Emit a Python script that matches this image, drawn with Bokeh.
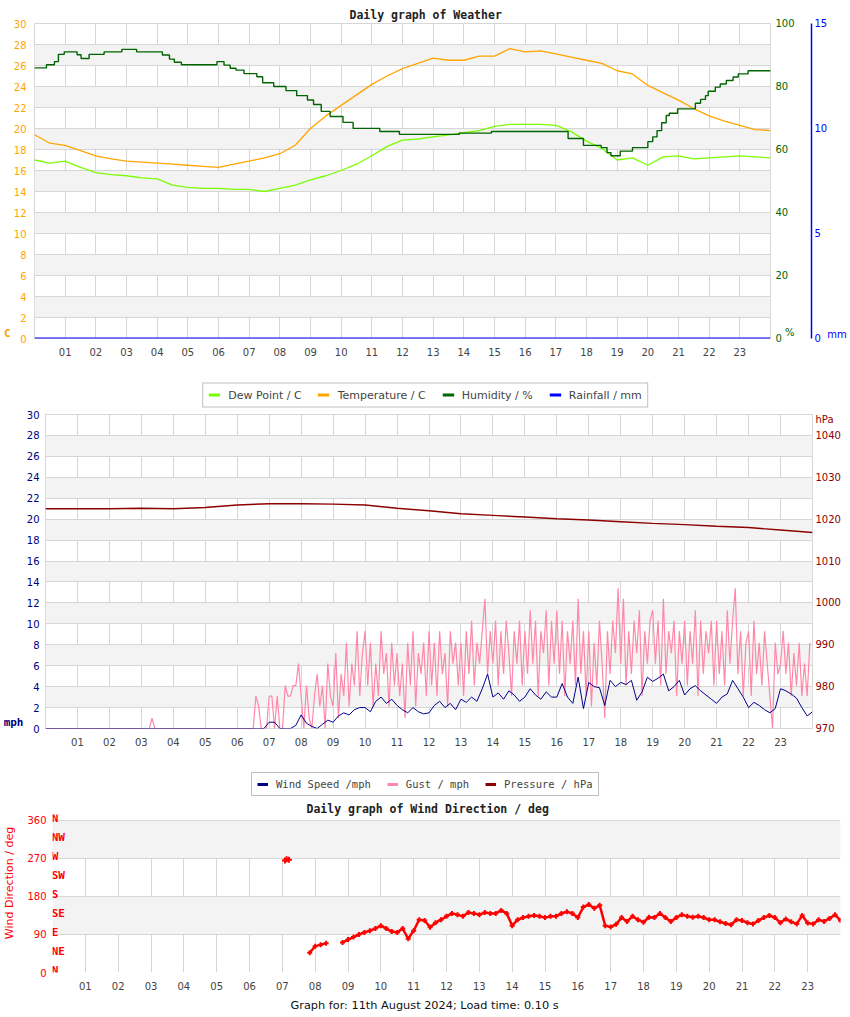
from bokeh.plotting import figure
from bokeh.models import Range1d, LinearAxis, FixedTicker, Legend, LegendItem, Title
from bokeh.embed import file_html
from bokeh.resources import INLINE

# ---------------- data ----------------
HOUR_TICKS = list(range(1, 24))
HOUR_LABELS = ["01", "02", "03", "04", "05", "06", "07", "08", "09", "10", "11", "12",
               "13", "14", "15", "16", "17", "18", "19", "20", "21", "22", "23"]

# Panel 1 : weather (half-hourly readings)
TEMP_HOURS = [0.0, 0.5, 1.0, 1.5, 2.0, 2.5, 3.0, 3.5, 4.0, 4.5, 5.0, 5.5, 6.0, 6.5, 7.0, 7.5,
              8.0, 8.5, 9.0, 9.5, 10.0, 10.5, 11.0, 11.5, 12.0, 12.5, 13.0, 13.5, 14.0, 14.5,
              15.0, 15.5, 16.0, 16.5, 17.0, 17.5, 18.0, 18.5, 19.0, 19.5, 20.0, 20.5, 21.0,
              21.5, 22.0, 22.5, 23.0, 23.5, 24.0]
TEMPERATURE = [19.4, 18.6, 18.4, 17.9, 17.4, 17.1, 16.9, 16.8, 16.7, 16.6, 16.5, 16.4, 16.3,
               16.6, 16.9, 17.2, 17.6, 18.4, 20.0, 21.2, 22.2, 23.2, 24.2, 25.0, 25.7, 26.2,
               26.7, 26.5, 26.5, 26.9, 26.9, 27.6, 27.3, 27.4, 27.1, 26.8, 26.5, 26.2, 25.5,
               25.2, 24.1, 23.4, 22.7, 21.9, 21.2, 20.7, 20.3, 19.9, 19.8]
DEW_POINT = [17.0, 16.7, 16.9, 16.3, 15.8, 15.6, 15.5, 15.3, 15.2, 14.6, 14.4, 14.3, 14.3,
             14.2, 14.2, 14.0, 14.3, 14.6, 15.1, 15.5, 16.0, 16.6, 17.4, 18.3, 18.9, 19.0,
             19.2, 19.4, 19.6, 19.8, 20.2, 20.4, 20.4, 20.4, 20.3, 19.7, 18.8, 18.1, 17.0,
             17.2, 16.5, 17.3, 17.4, 17.1, 17.2, 17.3, 17.4, 17.3, 17.2]
HUM_HOURS = [0.00, 0.39, 0.65, 0.78, 0.97, 1.39, 1.52, 1.78, 2.27, 2.85, 3.33, 4.17, 4.40,
             4.56, 4.79, 5.95, 6.18, 6.38, 6.57, 6.83, 7.25, 7.44, 7.80, 8.20, 8.55, 8.90,
             9.10, 9.35, 9.64, 10.06, 10.39, 11.26, 11.90, 13.85, 14.90, 17.40, 17.90, 18.48,
             18.67, 18.80, 19.10, 19.50, 20.00, 20.16, 20.30, 20.45, 20.60, 20.70, 20.97,
             21.55, 21.72, 21.88, 21.97, 22.20, 22.36, 22.56, 22.78, 22.95, 23.27, 24.00]
HUMIDITY = [85.9, 86.9, 87.9, 90.2, 91.0, 90.1, 88.9, 90.2, 91.0, 91.8, 91.0, 90.0, 88.7,
            87.7, 86.9, 87.9, 86.8, 85.8, 85.2, 84.1, 83.1, 81.2, 80.0, 78.7, 77.1, 75.7,
            74.3, 72.1, 70.5, 68.6, 66.7, 65.7, 64.8, 65.2, 65.7, 63.5, 61.3, 60.6,
            59.0, 58.0, 59.5, 60.6, 62.5, 64.0, 66.0, 68.5, 70.8, 71.5, 72.9,
            74.7, 75.9, 77.1, 78.5, 79.8, 80.8, 81.9, 83.0, 84.0, 85.0, 85.0]
RAIN_HOURS = [0.0, 24.0]
RAINFALL = [0.0, 0.0]

# Panel 2 : wind & pressure
PRESS_HOURS = list(range(25))
PRESSURE = [1022.5, 1022.5, 1022.5, 1022.6, 1022.5, 1022.8, 1023.4, 1023.7, 1023.7, 1023.6,
            1023.4, 1022.6, 1022.0, 1021.3, 1020.9, 1020.5, 1020.1, 1019.8, 1019.4, 1019.0,
            1018.7, 1018.3, 1018.0, 1017.4, 1016.8]

# wind speed, every 10 minutes from 00:00 to 24:00
WIND_SPEED = [
    0, 0, 0, 0, 0, 0,
    0, 0, 0, 0, 0, 0,
    0, 0, 0, 0, 0, 0,
    0, 0, 0, 0, 0, 0,
    0, 0, 0, 0, 0, 0,
    0, 0, 0, 0, 0, 0,
    0, 0, 0, 0, 0, 0,
    0.6, 0.6, 0.0, 0.0, 0.0, 0.3,
    1.3, 0.5, 0.2, 0.0, 0.4, 0.8,
    0.6, 1.2, 1.5, 1.3, 1.8, 2.0,
    2.0, 1.6, 2.6, 3.0, 2.4, 2.8,
    2.2, 1.8, 1.5, 2.0, 1.6, 1.4,
    1.5, 2.2, 2.6, 2.0, 2.4, 1.8,
    2.8, 2.5, 3.0, 2.6, 3.8, 5.2,
    3.0, 3.4, 2.8, 3.6, 3.2, 2.6,
    3.0, 3.8, 3.2, 2.8, 3.5, 3.0,
    3.0, 4.3, 3.0, 2.4, 4.9, 1.9,
    4.4, 4.0, 3.9, 2.2, 4.6, 4.0,
    4.4, 4.2, 4.6, 2.7, 3.5, 4.9,
    4.5, 4.8, 5.2, 3.6, 4.0, 4.6,
    3.2, 3.8, 4.1, 3.6, 3.2, 2.8,
    2.4, 3.0, 3.3, 4.6, 3.8, 3.0,
    2.0, 2.5, 2.2, 1.8, 1.5, 1.9,
    3.8, 3.6, 3.3, 2.9, 2.0, 1.2,
    1.6]

# gust, every 5 minutes from 00:00
GUST = [
    0, 0, 0, 0, 0, 0, 0, 0, 0, 0, 0, 0,
    0, 0, 0, 0, 0, 0, 0, 0, 0, 0, 0, 0,
    0, 0, 0, 0, 0, 0, 0, 0, 0, 0, 0, 0,
    0, 0, 0, 0, 1.0, 0, 0, 0, 0, 0, 0, 0,
    0, 0, 0, 0, 0, 0, 0, 0, 0, 0, 0, 0,
    0, 0, 0, 0, 0, 0, 0, 0, 0, 0, 0, 0,
    0, 0, 0, 0, 0, 0, 0, 3.1, 2.2, 0, 0, 0,
    3.1, 3.1, 0, 3.1, 0, 0, 4.1, 3.1, 3.1, 4.1, 4.1, 6.2,
    3.1, 0, 4.1, 1.0, 0, 3.1, 5.2, 2.1, 4.1, 0, 6.2, 3.1,
    2.1, 7.2, 1.0, 5.2, 3.1, 8.2, 2.1, 6.2, 4.1, 9.3, 3.1, 7.2,
    9.3, 4.1, 8.2, 2.1, 6.2, 3.1, 9.3, 5.2, 7.2, 2.1, 8.2, 4.1,
    7.2, 3.1, 6.2, 1.0, 8.2, 4.1, 9.3, 2.1, 7.2, 5.2, 8.2, 3.1,
    9.3, 4.1, 8.2, 3.1, 9.3, 5.2, 7.2, 2.1, 9.3, 6.2, 8.2, 4.1,
    8.2, 3.1, 9.3, 5.2, 10.3, 4.1, 8.2, 6.2, 9.3, 12.4, 5.2, 9.3,
    6.2, 10.3, 4.1, 9.3, 5.2, 10.3, 7.2, 3.1, 9.3, 6.2, 10.3, 4.1,
    9.3, 5.2, 11.3, 6.2, 10.3, 3.1, 9.3, 7.2, 11.3, 4.1, 10.3, 6.2,
    11.3, 5.2, 10.3, 3.1, 9.3, 6.2, 10.3, 4.1, 12.4, 5.2, 9.3, 3.1,
    9.3, 2.1, 8.2, 4.1, 10.3, 6.2, 1.0, 9.3, 5.2, 10.3, 7.2, 13.4,
    6.2, 12.4, 4.1, 9.3, 5.2, 10.3, 7.2, 11.3, 3.1, 9.3, 6.2, 10.3,
    11.3, 6.2, 10.3, 4.1, 12.4, 5.2, 9.3, 7.2, 10.3, 3.1, 9.3, 6.2,
    10.3, 4.1, 9.3, 6.2, 11.3, 3.1, 10.3, 5.2, 9.3, 7.2, 10.3, 4.1,
    10.3, 5.2, 9.3, 4.1, 11.3, 6.2, 10.3, 13.4, 5.2, 9.3, 3.1, 8.2,
    9.3, 3.1, 10.3, 5.2, 8.2, 4.1, 9.3, 6.2, 3.1, 0.0, 8.2, 5.2,
    6.2, 9.3, 5.2, 8.2, 3.1, 7.2, 4.1, 8.2, 3.1, 6.2, 3.1, 8.2]

# Panel 3 : wind direction, every 10 minutes from 07:50 (nan = no reading)
NAN = float("nan")
DIR_START_HOUR = 7 + 50 / 60
WIND_DIR = [
    47,
    62, 66, 69, NAN, NAN, 71,
    78, 84, 90, 95, 99, 104,
    111, 104, 97, 95, 104, 80,
    99, 125, 123, 107, 118, 125,
    133, 140, 137, 133, 142, 140,
    137, 142, 140, 140, 147, 140,
    111, 125, 130, 133, 135, 133,
    130, 133, 133, 140, 144, 140,
    130, 155, 161, 152, 159, 111,
    108, 114, 130, 121, 133, 125,
    119, 131, 130, 140, 130, 121,
    130, 137, 133, 131, 133, 130,
    125, 125, 120, 116, 113, 125,
    123, 118, 115, 123, 130, 135,
    130, 118, 127, 120, 115, 135,
    117, 115, 125, 121, 128, 137,
    123]
DIR_EXTRA_HOURS = [7.08, 7.13, 7.20]
DIR_EXTRA = [265, 268, 267]
COMPASS = ["N", "NE", "E", "SE", "S", "SW", "W", "NW", "N"]
COMPASS_DEG = [0, 45, 90, 135, 180, 225, 270, 315, 360]

LEGEND1 = ["Dew Point / C", "Temperature / C", "Humidity / %", "Rainfall / mm"]
LEGEND1_COLORS = ["#7cfc00", "#ffa500", "#006400", "#0000ff"]
LEGEND2 = ["Wind Speed /mph", "Gust / mph", "Pressure / hPa"]
LEGEND2_COLORS = ["#00008b", "#ff88aa", "#8b0000"]

GUST_HOURS = [i / 12 for i in range(len(GUST))]
WIND_HOURS = [i / 6 for i in range(len(WIND_SPEED))]
DIR_HOURS = [DIR_START_HOUR + i / 6 for i in range(len(WIND_DIR))]

# ---------------- styling ----------------
SANS = "DejaVu Sans"
MONO = "DejaVu Sans Mono"
GRID = "#d6d6d6"
BAND = "#f3f3f3"
TICK_GRAY = "#444444"
NB = "\u00a0"


def style_axis(ax, color, standoff, size="10px"):
    ax.major_label_text_color = color
    ax.major_label_text_font = SANS
    ax.major_label_text_font_size = size
    ax.major_tick_line_color = None
    ax.minor_tick_line_color = None
    ax.major_tick_out = 0
    ax.major_tick_in = 0
    ax.minor_tick_out = 0
    ax.minor_tick_in = 0
    ax.axis_line_color = None
    ax.major_label_standoff = standoff


def make_fig(height, top, bottom, left, right, ymax, yticks):
    p = figure(width=850, height=height, x_range=Range1d(0, 24), y_range=Range1d(0, ymax),
               output_backend="svg", toolbar_location=None,
               min_border_left=left, min_border_right=right,
               min_border_top=top, min_border_bottom=bottom)
    p.outline_line_color = GRID
    p.outline_line_width = 1
    xa = p.xaxis[0]
    xa.ticker = FixedTicker(ticks=HOUR_TICKS)
    xa.major_label_overrides = dict(zip(HOUR_TICKS, HOUR_LABELS))
    style_axis(xa, TICK_GRAY, 9)
    p.yaxis[0].ticker = FixedTicker(ticks=yticks)
    p.xgrid.ticker = FixedTicker(ticks=list(range(25)))
    p.ygrid.ticker = FixedTicker(ticks=yticks)
    p.xgrid.grid_line_color = GRID
    p.ygrid.grid_line_color = GRID
    p.ygrid.band_fill_color = BAND
    p.ygrid.band_fill_alpha = 1.0
    return p


def tag_axis(p, tick, text, color, side="left", y_range_name="default"):
    ax = LinearAxis(ticker=FixedTicker(ticks=[tick]), major_label_overrides={tick: text},
                    y_range_name=y_range_name)
    style_axis(ax, color, 0, size="11px")
    ax.major_label_text_font = MONO
    ax.major_label_text_font_style = "bold"
    p.add_layout(ax, side)
    return ax


def set_title(p, text, offset, standoff):
    p.title.text = text
    p.title.align = "left"
    p.title.offset = offset
    p.title.standoff = standoff
    p.title.text_font = MONO
    p.title.text_font_size = "11.5px"
    p.title.text_font_style = "bold"
    p.title.text_color = "#222222"


def legend_fig(height, labels, colors, font, size, glyph_width, spacing, location):
    lf = figure(width=850, height=height, x_range=Range1d(0, 1), y_range=Range1d(0, 1),
                x_axis_type=None, y_axis_type=None, output_backend="svg",
                toolbar_location=None, min_border=0)
    lf.outline_line_color = None
    rs = [lf.line([-5, -4], [-5, -5], line_color=c, line_width=3) for c in colors]
    leg = Legend(items=[LegendItem(label=t, renderers=[r]) for t, r in zip(labels, rs)],
                 orientation="horizontal", location=location,
                 label_text_font=font, label_text_font_size=size,
                 glyph_width=glyph_width, glyph_height=12, label_height=12,
                 label_standoff=8, spacing=spacing, padding=5, margin=0,
                 border_line_color="#808080", border_line_width=1.5,
                 background_fill_color="white", background_fill_alpha=1.0)
    lf.add_layout(leg, "center")
    return lf


# ---------------- panel 1 : weather ----------------
p1 = make_fig(379, 23, 41, 29, 80, 30, list(range(0, 31, 2)))
set_title(p1, "Daily graph of Weather", 315, 3)
style_axis(p1.yaxis[0], "#ffa500", 8)
tag_axis(p1, 0.45, "C", "#ffa500")
p1.extra_y_ranges = {"hum": Range1d(0, 100), "rain": Range1d(0, 15)}
hum_ax = LinearAxis(y_range_name="hum",
                    ticker=FixedTicker(ticks=[0, 20, 40, 60, 80, 100, 1.9]),
                    major_label_overrides={1.9: NB * 3 + "%"})
style_axis(hum_ax, "#006400", 5)
hum_ax.axis_label = "."
hum_ax.axis_label_text_alpha = 0
hum_ax.axis_label_text_font_size = "10px"
hum_ax.axis_label_standoff = 3
p1.add_layout(hum_ax, "right")
rain_ax = LinearAxis(y_range_name="rain", ticker=FixedTicker(ticks=[0, 5, 10, 15, 0.19]),
                     major_label_overrides={0.19: NB * 4 + "mm"})
style_axis(rain_ax, "#0000ff", 3)
rain_ax.axis_line_color = "#0000ff"
rain_ax.axis_line_width = 1.5
p1.add_layout(rain_ax, "right")

p1.line(TEMP_HOURS, DEW_POINT, line_color="#7cfc00", line_width=1.3)
p1.line(TEMP_HOURS, TEMPERATURE, line_color="#ffa500", line_width=1.3)
p1.step(HUM_HOURS, HUMIDITY, mode="after", line_color="#006400", line_width=1.4,
        y_range_name="hum")
p1.line(RAIN_HOURS, RAINFALL, line_color="#0000ff", line_width=2, y_range_name="rain")

leg1 = legend_fig(31, LEGEND1, LEGEND1_COLORS, SANS, "11px", 12, 16, "center")

# ---------------- panel 2 : wind & pressure ----------------
p2 = make_fig(359, 4, 41, 39, 38, 30, list(range(0, 31, 2)))
style_axis(p2.yaxis[0], "#000080", 6)
tag_axis(p2, 0.55, "mph", "#000080")
p2.extra_y_ranges = {"press": Range1d(970, 1045)}
pr_ax = LinearAxis(y_range_name="press",
                   ticker=FixedTicker(ticks=[970, 980, 990, 1000, 1010, 1020, 1030, 1040, 1043.8]),
                   major_label_overrides={1043.8: "hPa"})
style_axis(pr_ax, "#8b0000", 3)
p2.add_layout(pr_ax, "right")

p2.line(GUST_HOURS, GUST, line_color="#ff88aa", line_width=1.2)
p2.line(WIND_HOURS, WIND_SPEED, line_color="#00008b", line_width=1)
p2.line(PRESS_HOURS, PRESSURE, line_color="#8b0000", line_width=1.4, y_range_name="press")

leg2 = legend_fig(27, LEGEND2, LEGEND2_COLORS, MONO, "10.5px", 11, 16, (251, 0))

# ---------------- panel 3 : wind direction ----------------
# the frame reaches a few pixels above 360 deg so that the top compass label shows
p3 = make_fig(221, 18, 45, 49, 10, 374.2, [0, 90, 180, 270, 360])
p3.outline_line_color = None
set_title(p3, "Daily graph of Wind Direction / deg", 254, -3)
style_axis(p3.yaxis[0], "#ff0000", 6)
p3.yaxis[0].axis_label = NB * 6 + "Wind Direction / deg"
p3.yaxis[0].axis_label_text_color = "#ff0000"
p3.yaxis[0].axis_label_text_font = SANS
p3.yaxis[0].axis_label_text_font_size = "11px"
p3.yaxis[0].axis_label_text_font_style = "normal"
p3.yaxis[0].axis_label_standoff = 8
p3.quad(left=0, right=24, bottom=361.3, top=380, fill_color="white", line_color=None)

comp_ticks = [d + 4.7 for d in COMPASS_DEG]
comp_ax = LinearAxis(fixed_location=0.38, ticker=FixedTicker(ticks=comp_ticks),
                     major_label_overrides={t: (n if len(n) == 2 else n + NB)
                                            for t, n in zip(comp_ticks, COMPASS)})
style_axis(comp_ax, "#ff0000", 0, size="11px")
comp_ax.major_label_text_font = MONO
comp_ax.major_label_text_font_style = "bold"
p3.add_layout(comp_ax, "left")

p3.line(DIR_HOURS, WIND_DIR, line_color="#ff0000", line_width=2.5)
p3.scatter(DIR_HOURS, WIND_DIR, marker="cross", size=5, line_width=2, line_color="#ff0000")
p3.scatter(DIR_EXTRA_HOURS, DIR_EXTRA, marker="cross", size=6, line_width=2,
           line_color="#ff0000")

footer = Title(text="Graph for: 11th August 2024; Load time: 0.10 s", align="left",
               offset=238, standoff=8, text_font=SANS, text_font_size="11.3px",
               text_font_style="normal", text_color="#111111")
p3.add_layout(footer, "below")

open("out.html", "w").write(file_html([p1, leg1, p2, leg2, p3], INLINE))
